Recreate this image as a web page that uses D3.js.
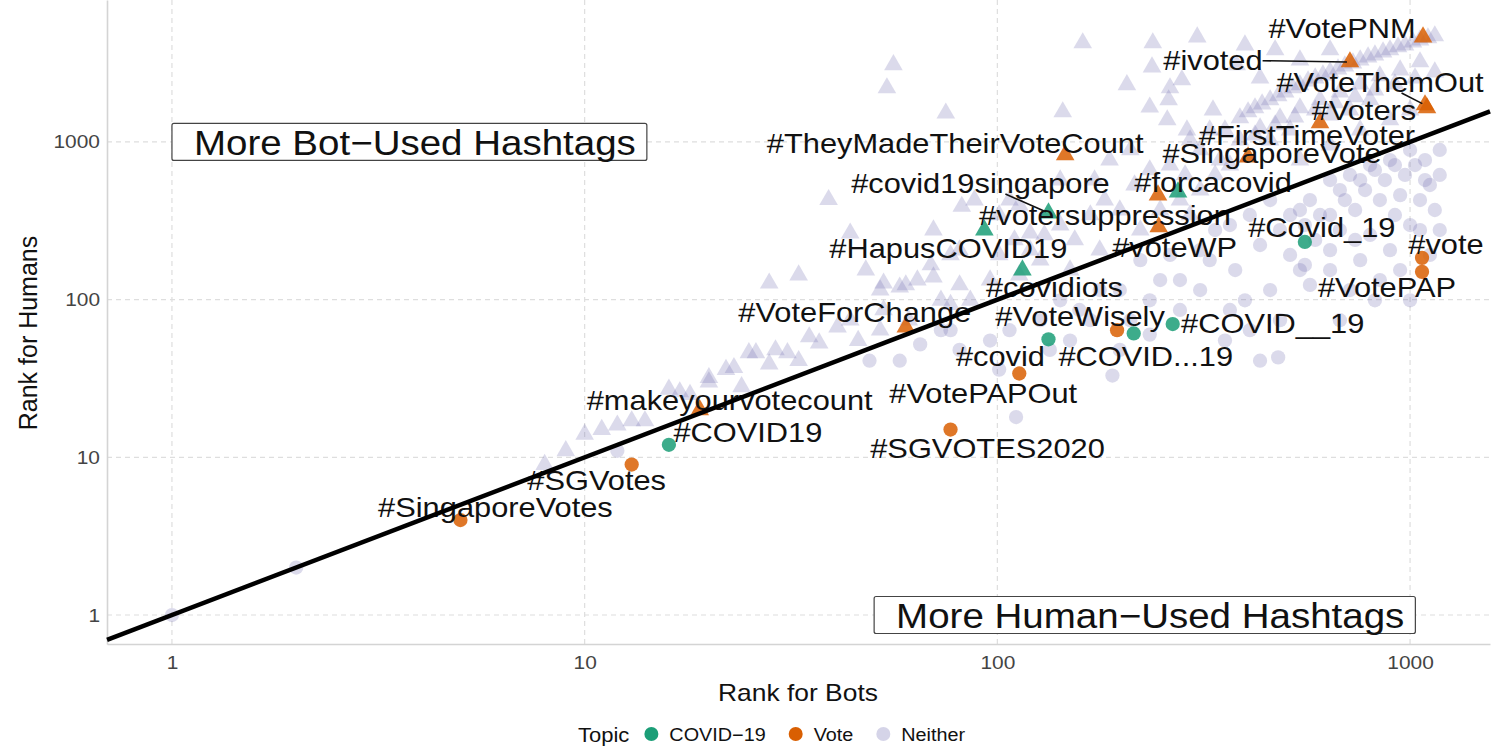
<!DOCTYPE html>
<html><head><meta charset="utf-8">
<script src="https://cdn.jsdelivr.net/npm/d3@7"></script>
<style>
body{margin:0;background:#fff}
svg{display:block}
text{font-family:"Liberation Sans",Arial,Helvetica,sans-serif}
</style>
</head><body>
<svg id="chart" width="1501" height="750"></svg>
<script>
// ---------------- DATA ----------------
const hashtags = ["#SingaporeVotes","#SGVotes","#COVID19","#makeyourvotecount","#SGVOTES2020","#VotePAPOut","#covid","#COVID...19","#VoteWisely","#COVID__19","#VoteForChange","#covidiots","#HapusCOVID19","#covid19singapore","#votersuppression","#voteWP","#forcacovid","#TheyMadeTheirVoteCount","#SingaporeVote","#FirstTimeVoter","#Voters","#VoteThemOut","#ivoted","#VotePNM","#Covid_19","#vote","#VotePAP"];
const topics = ["Vote","Vote","COVID-19","Vote","Vote","Vote","COVID-19","COVID-19","Vote","COVID-19","Vote","COVID-19","COVID-19","COVID-19","Vote","Vote","COVID-19","Vote","Vote","Vote","Vote","Vote","Vote","Vote","COVID-19","Vote","Vote"];
const botRanks   = [5,13,16,19,77,113,133,214,195,266,60,115,93,133,245,246,274,146,405,605,1099,1087,715,1075,556,1069,1069];
const humanRanks = [4,9,12,20,15,34,56,61,64,70,67,154,276,354,460,289,481,826,802,1318,1641,1714,3212,4624,232,184,150];

// hashtags in neither topic: [rank for bots, rank for humans]
const neitherRanks = [
 [56,3080],[54,2200],[75,1520],[39,430],[82,390],[70,276],[44,264],[161,4240],[238,4240],[305,4620],[206,2300],[262,2200],[144,1550],[234,1660],[28,127],[33,143],[237,2985],[280,2470],[260,1845],[258,1377],[333,1592],[288,1189],
 [356,1190],[387,1418],[421,1641],[458,1845],[498,2070],[541,2296],[589,2541],[640,2773],[695,3029],[757,3304],[822,3556],[894,3828],[972,4115],[1057,4426],[1148,4696],
 [387,1028],[433,1225],[484,1418],[541,1641],[605,1845],[676,2070],[757,2328],[845,2618],[946,2857],[1057,3212],[398,4115],[380,3076],[433,2541],[471,3828],[541,3304],[640,3828],
 [405,1548],[438,1738],[479,1955],[520,2198],[566,2432],[615,2655],[669,2899],[727,3162],[791,3453],[860,3715],[935,4000],[1016,4300],[1105,4560],
 [421,1106],[471,1280],[526,1438],[589,1592],[658,1765],[736,1927],[822,2133],[919,2328],[1028,2541],[1148,2773],
 [293,1028],[327,1189],[310,889],[346,767],[458,1028],[512,1189],[640,1481],[715,1592],[800,1845],[541,767],[640,955],[757,1189],[894,1377],[1000,1592],
 [81,206],[101,192],[110,239],[120,206],[130,257],[142,297],[154,239],[168,344],[182,428],[198,370],[215,533],[234,664],[262,713],[285,617],[310,495],[337,617],[366,713],[113,398],[101,344],[77,192],[69,166],[60,124],[52,115],[142,573],[172,573],[187,767],[210,889],[127,178],[150,154],[177,206],[222,276],[248,370],[277,428],[293,344],[96,133],[81,124],[113,143],[73,99],[88,428],[107,428],[120,264],
 [25,46],[29,48],[31,46],[35,58],[37,53],[41,67],[44,74],[48,154],[53,127],[58,120],[64,133],[70,139],[53,86],[22,36],[20,30],[24,28],[14,17],[13,17],[11,15],[10,14],[17,26],[9,11],[16,27],[20,32],[23,37],[26,46],[33,41],[46,55],[52,64],[61,74],[77,93],[86,99],[28,39],[18,25],[12,16],[8,9],
 [572,428],[640,573],[715,617],[800,713],[894,767],[1000,889],[1087,767],[1180,889],[541,370],[605,344],[695,428],[778,495],[869,573],[972,617],[1087,573],[1180,617],[484,276],[556,297],[640,344],[736,370],[845,428],[946,460],[1057,428],[1148,370],[433,222],[512,192],[640,206],[757,178],[894,206],[1000,297],[377,154],[458,115],[572,124],[715,115],[845,133],[310,115],[234,99],[277,86],[366,86],[484,74],[198,48],[479,43],[190,33],[168,74],[310,206],[262,192],[337,276],[409,344],[458,428],[366,297],[248,133],[222,178],[177,115],[142,99],[127,74],[107,64],[96,55],[81,48],[77,64],[150,55],[234,60],[356,55],[398,99],[101,36],[111,18],[433,41],[640,154],[946,154],[541,154],[1057,276],[1180,276],[277,133],[327,178],[198,115],[158,86],[210,74],[134,48],[73,64],[65,52],[58,41],[49,41],[12,11],[1,1],[2,2],[736,239],
 [676,495],[757,573],[822,664],[919,713],[1028,713],[1117,533],[512,344],[589,239],[676,276],[800,257],[919,344],[1117,192],[556,166],[822,99],[1000,99],[676,74],[409,64]
];

const xTicks = [1,10,100,1000];
const yTicks = [1,10,100,1000];
const topicNames  = ["COVID-19","Vote","Neither"];
const topicLabels = ["COVID\u221219","Vote","Neither"];
const annotationTexts = ["More Bot\u2212Used Hashtags","More Human\u2212Used Hashtags"];
const annotationBots   = [1,1030];
const annotationHumans = [1000,1];

// ---------------- LAYOUT / STYLE ----------------
const W = 1501, H = 750;
const colors = {"COVID-19":"#1b9e77","Vote":"#d95f02","Neither":"#7570b3"};
const labelOffsets = [[35,-13],[-35,15],[79,-13],[30,-10],[37,18],[-36,19],[-48,17],[12,22],[-37,-14],[100,-1],[-51,-15],[32,17],[-36,18],[-68,-30],[-53,20],[16,20],[35,-10],[-110,-12],[24,-4],[-13,12],[-63,2],[-45,-23],[-137,-2],[-81,-9],[17,-15],[24,-14],[-35,15]];
const leaderTags = ["#covid19singapore","#ivoted","#VoteThemOut"];
const STRETCH = 1.1;
const FONT = '"Liberation Sans",Arial,Helvetica,sans-serif';

const svg = d3.select("#chart");
svg.append("rect").attr("width",W).attr("height",H).attr("fill","#fff");

const x = d3.scaleLog().domain([0.696,1562]).range([107,1490]);
const y = d3.scaleLog().domain([0.655,7940]).range([644,0]);

function stretch(sel){
  sel.each(function(){
    const w = this.getComputedTextLength()*STRETCH;
    this.setAttribute("textLength", w);
    this.setAttribute("lengthAdjust","spacingAndGlyphs");
    this.__w = w;
  });
}

// grid
const grid = svg.append("g");
grid.selectAll(".vg").data(xTicks).join("line")
  .attr("x1",d=>x(d)).attr("x2",d=>x(d)).attr("y1",0).attr("y2",644)
  .attr("stroke","#dedede").attr("stroke-width",1.2).attr("stroke-dasharray","5,4");
grid.selectAll(".hg").data(yTicks).join("line")
  .attr("x1",107).attr("x2",1490).attr("y1",d=>y(d)).attr("y2",d=>y(d))
  .attr("stroke","#dedede").attr("stroke-width",1.2).attr("stroke-dasharray","5,4");

// axes
const xAxis = svg.append("g").attr("transform","translate(0,644)")
  .call(d3.axisBottom(x).tickValues(xTicks).tickFormat(d3.format("d")).tickSize(0).tickPadding(12));
const yAxis = svg.append("g").attr("transform","translate(107,0)")
  .call(d3.axisLeft(y).tickValues(yTicks).tickFormat(d3.format("d")).tickSize(0).tickPadding(7));
[xAxis,yAxis].forEach(a=>{
  a.select(".domain").attr("stroke","#d4d4d4").attr("stroke-width",1.6);
  a.selectAll("text").attr("font-size",19).attr("fill","#444").attr("font-family",FONT).call(stretch);
});

// symbols
const triSym = d3.symbol().type(d3.symbolTriangle).size(150);
const cirSym = d3.symbol().type(d3.symbolCircle).size(160);
const shapeFor = (b,h) => h > b ? triSym() : cirSym();

// neither points
svg.append("g").selectAll("path").data(neitherRanks).join("path")
  .attr("d",d=>shapeFor(d[0],d[1]))
  .attr("transform",d=>`translate(${x(d[0])},${y(d[1])})`)
  .attr("fill",colors["Neither"]).attr("fill-opacity",0.26);

// highlighted points
const hi = hashtags.map((t,i)=>({tag:t,topic:topics[i],b:botRanks[i],h:humanRanks[i],off:labelOffsets[i]}));
svg.append("g").selectAll("path").data(hi).join("path")
  .attr("d",d=>shapeFor(d.b,d.h))
  .attr("transform",d=>`translate(${x(d.b)},${y(d.h)})`)
  .attr("fill",d=>colors[d.topic]).attr("fill-opacity",0.85);

// labels
const lg = svg.append("g");
const labels = lg.selectAll("text").data(hi).join("text")
  .attr("x",d=>x(d.b)+d.off[0]).attr("y",d=>y(d.h)+d.off[1])
  .attr("dy","0.36em").attr("text-anchor","middle")
  .attr("font-size",28).attr("fill","#111").attr("font-family",FONT)
  .text(d=>d.tag).call(stretch);

// leader segments (ggrepel-like: from point toward label centre, clipped at label box)
labels.each(function(d){
  if(!leaderTags.includes(d.tag)) return;
  const w = this.__w, h = 22;
  const cx = x(d.b)+d.off[0], cy = y(d.h)+d.off[1];
  const px = x(d.b), py = y(d.h);
  const dx = cx-px, dy = cy-py;
  const tx = dx!==0 ? (Math.abs(dx)-w/2)/Math.abs(dx) : 0;
  const ty = dy!==0 ? (Math.abs(dy)-h/2)/Math.abs(dy) : 0;
  const tt = Math.max(Math.min(Math.max(tx,ty),1),0);
  const sx = px+dx*tt, sy = py+dy*tt;
  const len = Math.hypot(sx-px, sy-py);
  const ex = px + (sx-px)*(3/len), ey = py + (sy-py)*(3/len);
  lg.append("line").attr("x1",sx).attr("y1",sy).attr("x2",ex).attr("y2",ey)
    .attr("stroke","#111").attr("stroke-width",1.6);
});

// diagonal y = x
svg.append("path")
  .datum(x.domain())
  .attr("d", d3.line().x(d=>x(d)).y(d=>y(d)))
  .attr("stroke","#000").attr("stroke-width",4.5).attr("fill","none");

// annotation boxes
annotationTexts.forEach((txt,i)=>{
  const g = svg.append("g");
  const t = g.append("text").attr("font-size",35).attr("fill","#111").attr("font-family",FONT)
    .attr("dy","0.36em").attr("y",y(annotationHumans[i])).text(txt).call(stretch);
  const tw = t.node().__w;
  const padL = 22, padR = 11, bh = 37;
  const bw = tw+padL+padR;
  const left = i===0 ? x(annotationBots[i]) : x(annotationBots[i]) - bw;
  t.attr("x",left+padL);
  g.insert("rect","text").attr("x",left).attr("y",y(annotationHumans[i])-bh/2)
    .attr("width",bw).attr("height",bh).attr("rx",2)
    .attr("fill","#fff").attr("stroke","#444").attr("stroke-width",1.2);
});

// axis titles
svg.append("text").attr("x",798).attr("y",692).attr("dy","0.36em").attr("text-anchor","middle")
  .attr("font-size",24).attr("fill","#111").attr("font-family",FONT).text("Rank for Bots").call(stretch);
svg.append("text").attr("transform","translate(28,333) rotate(-90)").attr("dy","0.36em").attr("text-anchor","middle")
  .attr("font-size",25).attr("fill","#111").attr("font-family",FONT).text("Rank for Humans");

// legend (uniform ggplot-like spacing)
const leg = svg.append("g");
const legTitle = leg.append("text").attr("x",578).attr("y",735).attr("dy","0.36em")
  .attr("font-size",20).attr("fill","#111").attr("font-family",FONT).text("Topic").call(stretch);
let cursor = 578 + legTitle.node().__w + 22;
topicNames.forEach((tn,i)=>{
  leg.append("circle").attr("cx",cursor).attr("cy",734).attr("r",7)
    .attr("fill",colors[tn]).attr("fill-opacity",tn==="Neither"?0.3:1);
  const t = leg.append("text").attr("x",cursor+18).attr("y",735).attr("dy","0.36em")
    .attr("font-size",18).attr("fill","#111").attr("font-family",FONT).text(topicLabels[i]).call(stretch);
  cursor += 18 + t.node().__w + 30;
});
</script>
</body></html>
